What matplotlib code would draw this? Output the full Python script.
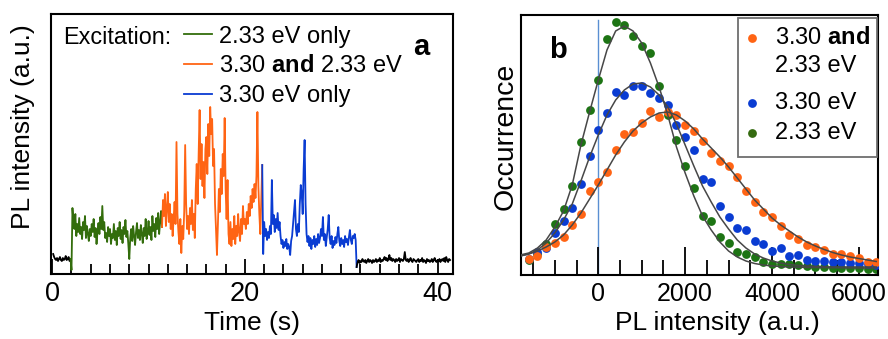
import numpy as np
import matplotlib
matplotlib.use("Agg")
import matplotlib.pyplot as plt
from matplotlib.patches import Rectangle

plt.rcParams['font.family'] = ['Liberation Sans', 'DejaVu Sans']
plt.rcParams['mathtext.fontset'] = 'custom'
plt.rcParams['mathtext.rm'] = 'Liberation Sans'
plt.rcParams['mathtext.bf'] = 'Liberation Sans:bold'

# ---- panel a: PL time trace (a.u.), sampled every 0.1 s ----
dt = 0.1
black1_t0 = 0.1
black1 = [20, 17, 15, 14, 16, 13, 15, 17, 14, 13, 16, 14, 15, 18, 14, 15, 17, 13, 15]
green_t0 = 2.0
green = [4, 66, 52, 45, 60, 38, 50, 42, 56, 40,
         47, 35, 52, 44, 58, 36, 48, 40, 33, 45,
         38, 50, 42, 55, 37, 46, 30, 42, 51, 40,
         57, 45, 68, 44, 52, 36, 41, 32, 47, 38,
         45, 30, 40, 36, 50, 34, 43, 29, 46, 38,
         52, 35, 44, 31, 47, 40, 54, 37, 43, 30,
         15, 36, 45, 33, 48, 38, 29, 42, 51, 36,
         44, 34, 49, 40, 31, 46, 38, 55, 35, 42,
         53, 39, 47, 34, 58, 43, 50, 37, 56, 45,
         61, 40, 52, 63, 47]
orange_t0 = 11.5
orange = [74, 58, 80, 48, 66,
          82, 52, 70, 45, 60, 38, 55, 72, 50, 132,
          60, 42, 30, 55, 21, 48, 35, 62, 129, 70,
          45, 58, 40, 66, 50, 74, 44, 60, 36, 85,
          110, 70, 120, 164, 95, 130, 88, 112, 76, 125,
          137, 100, 150, 118, 167, 140, 155, 108, 125, 70,
          45, 19, 50, 85, 62, 105, 80, 120, 98, 156,
          85, 55, 94, 40, 30, 52, 28, 45, 35, 58,
          30, 48, 38, 60, 42, 33, 55, 40, 68, 50,
          55, 45, 62, 50, 70, 58, 78, 66, 85, 72,
          90, 76, 98, 162, 88, 60, 40, 75, 109]
blue_t0 = 21.9
blue = [20,
        52, 38, 45, 34, 42, 36, 48, 40, 94, 50,
        59, 42, 55, 46, 61, 44, 52, 38, 30, 34,
        26, 32, 28, 35, 25, 30, 27, 19, 33, 38,
        50, 62, 74, 45, 38, 50, 42, 70, 89, 80,
        60, 105, 134, 70, 40, 32, 38, 28, 36, 25,
        34, 30, 38, 27, 35, 29, 40, 31, 36, 45,
        38, 57, 34, 40, 28, 37, 45, 59, 36, 30,
        38, 26, 33, 29, 37, 31, 40, 47, 33, 28,
        36, 30, 34, 27, 38, 32, 35, 29, 37, 44,
        34, 30, 38, 36, 40, 34, 7]
black2_t0 = 31.7
black2 = [12, 14, 11, 13, 12, 15, 13, 12, 14, 11,
          13, 15, 12, 14, 13, 11, 14, 12, 13, 15,
          12, 14, 13, 16, 12, 14, 13, 15, 17, 14,
          16, 13, 15, 19, 14, 16, 13, 15, 14, 12,
          15, 13, 14, 16, 12, 15, 14, 13, 15, 22,
          14, 13, 15, 12, 14, 16, 13, 12, 15, 14,
          13, 12, 14, 15, 12, 14, 13, 16, 12, 14,
          13, 11, 15, 13, 14, 12, 13, 15, 12, 14,
          16, 13, 12, 14, 13, 15, 12, 14, 15, 13,
          16, 12, 17, 14, 12, 15, 14]

# ---- panel b: histograms of PL intensity ----
hist_x = list(range(-1600, 6401, 200))
occ_green = [15, 21, 31, 51, 65.7, 88.7, 133, 164.7, 194.7, 236, 252.7, 250, 239.3, 229,
             221.7, 189.3, 160, 135, 108.7, 87.3, 59, 54.3, 37.7, 32.3, 22.7, 21.3, 17.7,
             13, 10.7, 10.7, 10.7, 10, 9.3, 7.7, 8.3, 7.3, 7.3, 7.3, 6.7, 6, 5.7]
occ_blue = [16, 22.7, 26.7, 41.7, 54, 66.7, 91, 119, 145, 161.7, 183.3, 180, 189.3, 189.3,
            181.7, 176.7, 170, 150, 138.3, 125, 95.7, 93.3, 69.3, 57.7, 47.3, 45, 34,
            30.7, 24, 26.7, 19.3, 20, 15, 14, 14, 12.7, 12.7, 11.7, 11.7, 10.7, 10]
occ_orange = [16, 19.3, 27.7, 31.7, 37.7, 50, 60.7, 84, 93.3, 102.7, 125, 141, 142.7, 151.7,
              164, 157.7, 163.3, 160, 150, 144, 134.3, 122.3, 114.3, 109, 98.3, 84, 72.7,
              63, 58.3, 49.3, 40, 36, 30, 28.3, 25, 20.7, 20.7, 19.3, 17.3, 13.3, 13.3]

fit_x = list(range(-1800, 6401, 200))
fit_green = [20, 22, 27, 35, 48, 64, 90, 130, 163, 195, 225, 244, 249, 244, 232, 212, 188,
             160, 128, 102, 79, 59, 45, 33, 24, 18, 14, 11.5, 10, 9, 8.5, 8, 7.8, 7.6, 7.5,
             7.4, 7.3, 7.2, 7.1, 7, 7, 7]
fit_blue = [19, 21, 25, 32, 42, 55, 71, 94, 118, 140, 160, 175, 185, 191, 192, 188, 180,
            168, 151, 130, 109, 89, 73, 58, 46, 35, 27, 21, 17, 14, 12, 10.5, 9.5, 9, 8.5,
            8.2, 8, 8, 8, 8, 8, 8]
fit_orange = [19, 21, 24, 28, 33, 40, 50, 62, 76, 90, 105, 120, 133, 144, 152, 158, 162,
              163, 160, 154, 146, 136, 127, 118, 108, 97, 86, 75, 66, 57, 50, 44, 38, 33,
              29, 25.5, 22.5, 20, 18, 16.5, 15, 13.5]

c_green_line = '#336d0c'
c_orange = '#ff6414'
c_blue = '#0a3cd2'
c_green_dot = '#1d7414'

fig = plt.figure(figsize=(8.88, 3.39), dpi=100)
ax1 = fig.add_axes([0.0574, 0.1917, 0.4527, 0.767])
ax2 = fig.add_axes([0.5867, 0.1888, 0.402, 0.767])

# Chart-a: PL intensity versus time
segments = [(black1_t0, black1, 'black', None),
            (green_t0, green, c_green_line, '2.33 eV only'),
            (orange_t0, orange, c_orange, r'3.30 $\mathbf{and}$ 2.33 eV'),
            (blue_t0, blue, c_blue, '3.30 eV only'),
            (black2_t0, black2, 'black', None)]
prev = None
for t0, vals, col, lab in segments:
    t = t0 + dt * np.arange(len(vals))
    y = np.array(vals, dtype=float)
    if prev is not None:
        t = np.concatenate([[prev[0]], t])
        y = np.concatenate([[prev[1]], y])
    ax1.plot(t, y, color=col, lw=1.3, label=lab)
    prev = (t[-1], y[-1])

ax1.set_xlim(-0.13, 41.6)
ax1.set_ylim(0, 260)
ax1.set_yticks([])
ax1.set_xticks([0, 20, 40])
ax1.set_xticks(np.arange(0, 42, 2), minor=True)
ax1.tick_params(axis='x', which='major', direction='in', length=11, width=1.3, labelsize=19.5, pad=5)
ax1.tick_params(axis='x', which='minor', direction='in', length=7, width=1.3)
ax1.set_xlabel('Time (s)', fontsize=19, labelpad=3)
ax1.set_ylabel('PL intensity (a.u.)', fontsize=19)
ax1.yaxis.set_label_coords(-0.04, 0.565)
for s in ax1.spines.values():
    s.set_linewidth(1.5)

ax1.text(0.03, 0.909, 'Excitation:', transform=ax1.transAxes, fontsize=16.8, va='center', ha='left')
ax1.legend(loc='upper left', bbox_to_anchor=(0.331, 0.955), frameon=False, fontsize=17,
           handlelength=1.2, handletextpad=0.3, labelspacing=0.33, borderpad=0, borderaxespad=0)
ax1.text(0.922, 0.874, 'a', transform=ax1.transAxes, fontsize=21, fontweight='bold',
         ha='center', va='center')

# Chart-b: histograms with fits
ax2.axvline(0, ymax=0.98, color='#5a8fd2', lw=1.0, zorder=1)
ax2.scatter(hist_x, occ_green, s=40, color=c_green_dot, lw=0, zorder=2)
ax2.scatter(hist_x, occ_blue, s=40, color=c_blue, lw=0, zorder=3)
ax2.scatter(hist_x, occ_orange, s=40, color=c_orange, lw=0, zorder=4)
for fy in (fit_green, fit_blue, fit_orange):
    ax2.plot(fit_x, fy, color='#474747', lw=1.1, zorder=5)

ax2.set_xlim(-1780, 6440)
ax2.set_ylim(0, 260)
ax2.set_yticks([])
ax2.set_xticks([0, 2000, 4000, 6000])
ax2.set_xticks(np.arange(-1500, 6500, 500), minor=True)
ax2.tick_params(axis='x', which='major', direction='in', length=20, width=1.3, labelsize=18, pad=5)
ax2.tick_params(axis='x', which='minor', direction='in', length=11, width=1.3)
ax2.set_xlabel('PL intensity (a.u.)', fontsize=19)
ax2.xaxis.set_label_coords(0.549, -0.14)
ax2.set_ylabel('Occurrence', fontsize=20.5)
ax2.yaxis.set_label_coords(-0.008, 0.533)
for s in ax2.spines.values():
    s.set_linewidth(1.5)
ax2.text(0.1045, 0.865, 'b', transform=ax2.transAxes, fontsize=21, fontweight='bold',
         ha='center', va='center')

# legend box for panel b
ax2.add_patch(Rectangle((0.607, 0.4527), 0.39, 0.535, transform=ax2.transAxes,
                        facecolor='white', edgecolor='#6e6e6e', lw=1.3, zorder=10))
leg_items = [(0.910, c_orange, r'3.30 $\mathbf{and}$'),
             (0.663, c_blue, '3.30 eV'),
             (0.545, '#356b10', '2.33 eV')]
for ly, col, lab in leg_items:
    ax2.scatter([0.647], [ly], s=40, color=col, lw=0, transform=ax2.transAxes, zorder=11)
    ax2.text(0.7115, ly, lab, transform=ax2.transAxes, fontsize=17, va='center', ha='left', zorder=11)
ax2.text(0.7115, 0.805, '2.33 eV', transform=ax2.transAxes, fontsize=17, va='center', ha='left', zorder=11)

fig.savefig('out.png', dpi=100)
